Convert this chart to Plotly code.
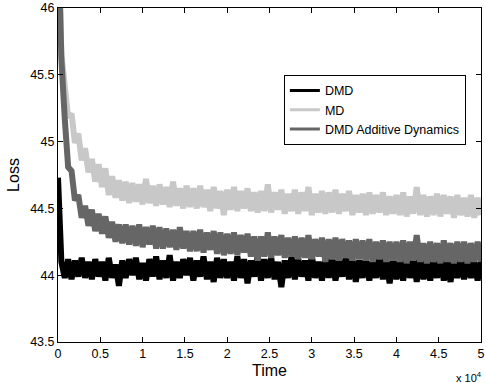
import plotly.graph_objects as go

# Time grid (iterations), step 400 from 0 to 50000
time = [400 * i for i in range(126)]

loss_dmd = [
    44.73, 44.10, 43.98, 44.12, 43.97, 44.11, 43.99, 44.13, 43.98, 44.10,
    43.97, 44.12, 43.99, 44.10, 43.96, 44.13, 43.98, 44.08, 43.92, 44.11,
    43.98, 44.12, 44.00, 44.13, 43.97, 44.09, 43.96, 44.12, 43.99, 44.14,
    43.97, 44.11, 43.98, 44.15, 43.96, 44.10, 43.98, 44.12, 44.00, 44.13,
    43.96, 44.11, 43.99, 44.14, 43.97, 44.10, 43.95, 44.13, 43.98, 44.12,
    43.98, 44.10, 43.96, 44.14, 43.98, 44.12, 43.94, 44.11, 43.99, 44.15,
    43.96, 44.12, 43.98, 44.13, 43.97, 44.10, 43.91, 44.11, 43.98, 44.14,
    43.97, 44.12, 43.99, 44.11, 43.96, 44.15, 43.98, 44.10, 43.96, 44.13,
    43.98, 44.14, 43.96, 44.11, 43.99, 44.13, 43.97, 44.12, 43.95, 44.11,
    43.98, 44.13, 43.96, 44.10, 43.98, 44.14, 43.97, 44.11, 43.94, 44.12,
    43.97, 44.11, 43.96, 44.13, 43.98, 44.12, 43.95, 44.14, 43.97, 44.10,
    43.96, 44.12, 43.98, 44.13, 43.96, 44.10, 43.95, 44.12, 43.98, 44.11,
    43.97, 44.12, 43.98, 44.10, 43.96, 44.11,
]

loss_md = [
    46.70, 45.65, 45.42, 45.18, 45.21, 44.99, 45.06, 44.86, 44.95, 44.77,
    44.87, 44.70, 44.83, 44.66, 44.80, 44.60, 44.74, 44.58, 44.71, 44.56,
    44.70, 44.54, 44.69, 44.55, 44.68, 44.53, 44.72, 44.54, 44.67, 44.52,
    44.68, 44.53, 44.66, 44.51, 44.70, 44.52, 44.65, 44.50, 44.67, 44.51,
    44.65, 44.50, 44.67, 44.51, 44.64, 44.48, 44.66, 44.50, 44.63, 44.45,
    44.64, 44.49, 44.66, 44.48, 44.63, 44.50, 44.65, 44.48, 44.62, 44.47,
    44.63, 44.48, 44.68, 44.47, 44.62, 44.49, 44.64, 44.46, 44.61, 44.48,
    44.64, 44.46, 44.62, 44.48, 44.66, 44.45, 44.61, 44.47, 44.63, 44.46,
    44.62, 44.47, 44.64, 44.46, 44.61, 44.48, 44.63, 44.45, 44.60, 44.47,
    44.61, 44.45, 44.62, 44.46, 44.60, 44.47, 44.62, 44.45, 44.59, 44.46,
    44.60, 44.45, 44.62, 44.44, 44.59, 44.46, 44.66, 44.45, 44.60, 44.44,
    44.59, 44.45, 44.61, 44.44, 44.60, 44.46, 44.59, 44.43, 44.60, 44.45,
    44.58, 44.44, 44.60, 44.43, 44.58, 44.45,
]

loss_dmd_add = [
    46.60, 45.62, 45.17, 44.81, 44.78, 44.56, 44.60, 44.43, 44.52, 44.37,
    44.49, 44.33, 44.46, 44.31, 44.44, 44.28, 44.40, 44.25, 44.38, 44.24,
    44.38, 44.23, 44.37, 44.22, 44.38, 44.21, 44.36, 44.23, 44.37, 44.20,
    44.36, 44.20, 44.35, 44.21, 44.34, 44.19, 44.36, 44.20, 44.33, 44.18,
    44.33, 44.18, 44.34, 44.17, 44.32, 44.19, 44.33, 44.16, 44.32, 44.15,
    44.31, 44.16, 44.32, 44.15, 44.30, 44.17, 44.31, 44.14, 44.29, 44.11,
    44.29, 44.14, 44.32, 44.13, 44.29, 44.15, 44.30, 44.13, 44.28, 44.14,
    44.29, 44.12, 44.28, 44.13, 44.30, 44.12, 44.27, 44.14, 44.28, 44.10,
    44.27, 44.12, 44.28, 44.11, 44.27, 44.13, 44.26, 44.11, 44.27, 44.12,
    44.26, 44.11, 44.27, 44.10, 44.25, 44.12, 44.26, 44.10, 44.25, 44.11,
    44.25, 44.10, 44.26, 44.09, 44.25, 44.11, 44.30, 44.10, 44.24, 44.09,
    44.25, 44.10, 44.24, 44.09, 44.26, 44.10, 44.24, 44.09, 44.25, 44.10,
    44.25, 44.09, 44.24, 44.10, 44.25, 44.10,
]

series_names = ["DMD", "MD", "DMD Additive Dynamics"]
series_colors = ["#000000", "#c8c8c8", "#666666"]

x_tickvals = [0, 5000, 10000, 15000, 20000, 25000, 30000, 35000, 40000, 45000, 50000]
x_ticktext = ["0", "0.5", "1", "1.5", "2", "2.5", "3", "3.5", "4", "4.5", "5"]
y_tickvals = [43.5, 44, 44.5, 45, 45.5, 46]
y_ticktext = ["43.5", "44", "44.5", "45", "45.5", "46"]

FONT = "Liberation Sans, Arial, Helvetica, sans-serif"

fig = go.Figure()
for name, ys, col in zip(series_names, [loss_dmd, loss_md, loss_dmd_add], series_colors):
    fig.add_trace(go.Scatter(x=time, y=ys, mode="lines", name=name,
                             showlegend=False, legendgroup=name,
                             line=dict(color=col, width=6, simplify=False,
                                       shape="linear")))
# legend entries (thinner line sample, as in the reference)
for name, col in zip(series_names, series_colors):
    fig.add_trace(go.Scatter(x=[None], y=[None], mode="lines", name=name,
                             legendgroup=name, line=dict(color=col, width=3)))

fig.update_layout(
    width=486, height=383,
    margin=dict(l=58, r=1, t=5, b=41),
    plot_bgcolor="white", paper_bgcolor="white",
    font=dict(family=FONT, size=12.5, color="black"),
    showlegend=True,
    legend=dict(x=0.534, y=0.80, xanchor="left", yanchor="top",
                bordercolor="black", borderwidth=1, bgcolor="white",
                font=dict(family=FONT, size=12.5, color="black"),
                tracegroupgap=0, itemwidth=30),
)
fig.update_xaxes(range=[0, 50000], tickvals=x_tickvals, ticktext=x_ticktext,
                 ticks="inside", ticklen=5, tickcolor="black",
                 showline=True, linecolor="black", linewidth=1, mirror="ticks",
                 showgrid=False, zeroline=False, ticklabeloverflow="allow",
                 title=dict(text="Time", font=dict(size=16), standoff=4))
fig.update_yaxes(range=[43.5, 46], tickvals=y_tickvals, ticktext=y_ticktext,
                 ticks="inside", ticklen=5, tickcolor="black",
                 showline=True, linecolor="black", linewidth=1, mirror="ticks",
                 showgrid=False, zeroline=False, ticklabeloverflow="allow",
                 title=dict(text="Loss", font=dict(size=16), standoff=6))
fig.add_annotation(text="x 10<sup>4</sup>", xref="paper", yref="paper",
                   x=(458 - 58) / 427, y=-(377 - 342) / 337,
                   xanchor="left", yanchor="middle", showarrow=False,
                   font=dict(family=FONT, size=11, color="black"))

fig.write_html("out.html")
